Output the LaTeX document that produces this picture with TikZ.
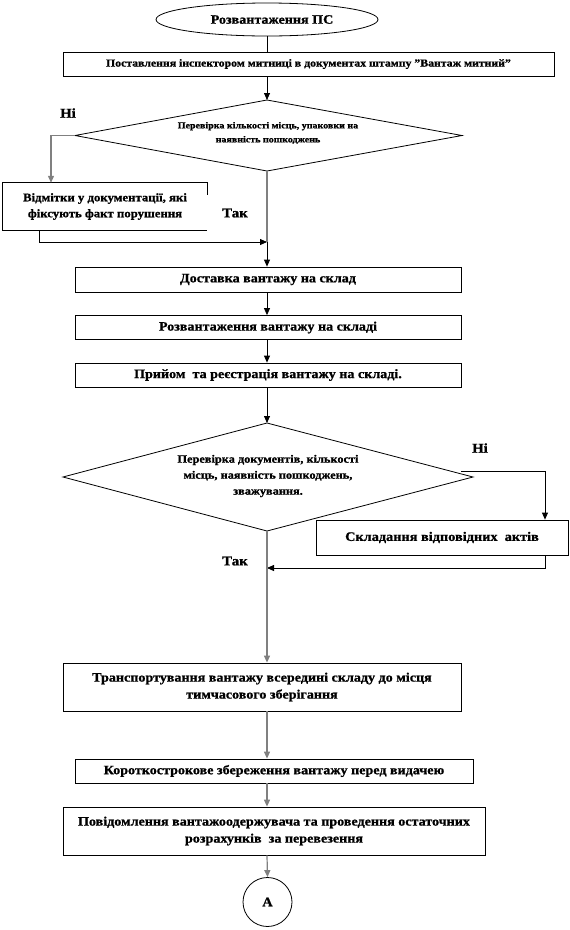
\documentclass[tikz,border=0pt]{standalone}
\usepackage{fontspec}
\setmainfont{Liberation Serif}[FakeStretch=1.1, BoldFeatures={FakeBold=1}]
\usetikzlibrary{shapes.geometric,arrows.meta}
\begin{document}
\begin{tikzpicture}[x=1pt,y=-1pt,
  every node/.style={font=\bfseries, inner sep=0pt},
  box/.style={draw, line width=0.8pt, rectangle, align=center},
  txt/.style={align=center},
  lbl/.style={font=\fontsize{13.5}{15}\selectfont\bfseries},
  conn/.style={line width=0.8pt},
  gconn/.style={line width=1.2pt, draw=black!50},
  arr/.style={-{Triangle[length=7pt,width=6pt]}}]
\useasboundingbox (0,0) rectangle (570,930);
\coordinate (spine) at (267,0);
% start
\node[draw, line width=0.8pt, ellipse, minimum width=222pt, minimum height=33pt,
  font=\fontsize{12.8}{15}\selectfont\bfseries] (start) at (267,19.5) {\hspace{10pt}Розвантаження ПС};
\node[box, minimum width=491pt, minimum height=24pt, font=\fontsize{10.7}{13}\selectfont\bfseries] (b1) at (308.5,64)
  {Поставлення інспектором митниці в документах штампу "Вантаж митний"};
% decision 1
\coordinate (d1t) at (267,100);
\coordinate (d1b) at (267,171);
\coordinate (d1l) at (75,135.5);
\coordinate (d1r) at (462,135.5);
\draw[conn] (d1t) -- (d1r) -- (d1b) -- (d1l) -- cycle;
\node[txt, font=\fontsize{9.1}{14}\selectfont\bfseries] (d1) at (268,133)
  {Перевірка кількості місць, упаковки на\\наявність пошкоджень};
\node[lbl] (ni1) at (68,113) {Ні};
\node[minimum width=204pt, minimum height=47pt, txt, font=\fontsize{11.6}{16}\selectfont\bfseries] (b2) at (105,206.5)
  {Відмітки у документації, які\\фіксують факт порушення};
\draw[conn] (b2.north east) ++(0,12) -- (b2.north east) -- (b2.north west) -- (b2.south west) -- (b2.south east);
\node[lbl] (tak1) at (235,213) {Так};
\coordinate (m1) at (267,242);
\node[box, minimum width=386pt, minimum height=25pt, font=\fontsize{12.8}{14}\selectfont\bfseries] (b3) at (268,279.5)
  {Доставка вантажу на склад};
\node[box, minimum width=386pt, minimum height=24pt, font=\fontsize{12.8}{14}\selectfont\bfseries] (b4) at (268,327.5)
  {Розвантаження вантажу на складі};
\node[box, minimum width=386pt, minimum height=24pt, font=\fontsize{12.8}{14}\selectfont\bfseries] (b5) at (268,375)
  {Прийом\ \ та реєстрація вантажу на складі.};
% decision 2
\coordinate (d2t) at (267,423);
\coordinate (d2b) at (267,531);
\coordinate (d2l) at (63,477);
\coordinate (d2r) at (473,477);
\draw[conn] (d2t) -- (d2r) -- (d2b) -- (d2l) -- cycle;
\node[txt, font=\fontsize{11.2}{16}\selectfont\bfseries] (d2) at (268,476)
  {Перевірка документів, кількості\\місць, наявність пошкоджень,\\зважування.};
\node[lbl] (ni2) at (480,448) {Ні};
\node[box, minimum width=252pt, minimum height=35pt, font=\fontsize{13}{14}\selectfont\bfseries] (b6) at (442,537.5)
  {Складання відповідних\ \ актів};
\node[lbl] (tak2) at (235,561) {Так};
\coordinate (m2) at (267,568);
\node[box, minimum width=398pt, minimum height=48pt, font=\fontsize{12.8}{17}\selectfont\bfseries] (b7) at (262,687)
  {Транспортування вантажу всередині складу до місця\\тимчасового зберігання};
\node[box, minimum width=398pt, minimum height=24pt, font=\fontsize{12.8}{14}\selectfont\bfseries] (b8) at (274,771)
  {Короткострокове збереження вантажу перед видачею};
\node[box, minimum width=422pt, minimum height=48pt, font=\fontsize{12.8}{17}\selectfont\bfseries] (b9) at (274,831)
  {Повідомлення вантажоодержувача та проведення остаточних\\розрахунків\ \ за перевезення};
\node[draw, line width=0.8pt, circle, minimum size=49pt, font=\fontsize{13}{15}\selectfont\bfseries] (A) at (267.5,902) {A};
% connectors
\draw[conn] (start.south -| spine) -- (b1.north -| spine);
\draw[conn, arr] (b1.south -| spine) -- (d1t);
\draw[gconn, arr] (d1l) -| (b2.north west -| 51,0);
\draw[conn, arr] (b2.south west -| 39,0) |- (m1);
\draw[gconn] (d1b) -- (m1);
\draw[conn, arr] (m1) -- (b3.north -| spine);
\draw[conn, arr] (b3.south -| spine) -- (b4.north -| spine);
\draw[conn, arr] (b4.south -| spine) -- (b5.north -| spine);
\draw[conn, arr] (b5.south -| spine) -- (d2t);
\coordinate (r1) at (461,471);
\draw[conn, arr] (r1) -| (b6.north -| 545,0);
\draw[conn, arr] (b6.south -| 545,0) |- (m2);
\draw[gconn] (d2b) -- (m2);
\draw[gconn, arr] (m2) -- (b7.north -| spine);
\draw[gconn, arr] (b7.south -| spine) -- (b8.north -| spine);
\draw[gconn, arr] (b8.south -| spine) -- (b9.north -| spine);
\draw[gconn, arr] (b9.south -| spine) -- (A.north);
\end{tikzpicture}
\end{document}
